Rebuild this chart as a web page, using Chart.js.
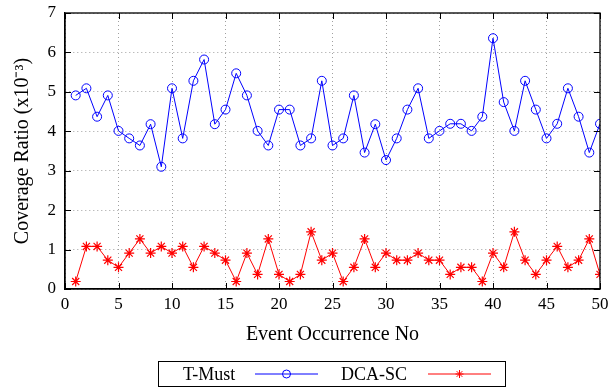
<!DOCTYPE html>
<html>
<head>
<meta charset="utf-8">
<script src="https://cdn.jsdelivr.net/npm/chart.js@4/dist/chart.umd.min.js"></script>
<style>
  html, body { margin: 0; padding: 0; background: #fff; }
  #wrap { width: 608px; height: 388px; }
</style>
</head>
<body>
<div id="wrap"><canvas id="chart" width="608" height="388"></canvas></div>
<script>
// event numbers 1..50
const events = [1,2,3,4,5,6,7,8,9,10,11,12,13,14,15,16,17,18,19,20,21,22,23,24,25,
  26,27,28,29,30,31,32,33,34,35,36,37,38,39,40,41,42,43,44,45,46,47,48,49,50]

// coverage ratio (x10^-3)
const tMust = [4.91,5.09,4.37,4.91,4.01,3.82,3.64,4.18,3.10,5.09,3.82,5.28,5.82,4.18,4.55,5.47,4.91,4.01,3.64,4.55,
  4.55,3.64,3.82,5.28,3.64,3.82,4.91,3.46,4.18,3.27,3.82,4.55,5.09,3.82,4.01,4.19,4.19,4.01,4.37,6.36,
  4.74,4.01,5.28,4.55,3.82,4.19,5.09,4.37,3.46,4.19]
const dcaSc = [0.19,1.08,1.08,0.73,0.55,0.91,1.27,0.91,1.08,0.91,1.08,0.55,1.08,0.91,0.73,0.19,0.91,0.37,1.27,0.37,
  0.19,0.37,1.45,0.73,0.91,0.19,0.55,1.27,0.55,0.91,0.73,0.73,0.91,0.73,0.73,0.37,0.55,0.55,0.19,0.91,
  0.55,1.45,0.73,0.37,0.73,1.08,0.55,0.73,1.27,0.37]

const xTicks = [0,5,10,15,20,25,30,35,40,45,50]
const yTicks = [0,1,2,3,4,5,6,7]

const serif = "'Liberation Serif', 'Times New Roman', serif"

const toPoints = (vals) => events.map((e, i) => ({ x: e, y: vals[i] }))

// closed frame with inward tick marks, plus a boxed legend (text first, then symbol)
const framePlugin = {
  id: "frame",
  afterDraw(chart) {
    const { ctx, chartArea: a, scales } = chart
    const tick = 6
    ctx.save()
    ctx.strokeStyle = "#000"
    ctx.lineWidth = 1
    xTicks.forEach(v => {
      const px = Math.round(scales.x.getPixelForValue(v)) + 0.5
      ctx.beginPath()
      ctx.moveTo(px, a.bottom); ctx.lineTo(px, a.bottom - tick)
      ctx.moveTo(px, a.top); ctx.lineTo(px, a.top + tick)
      ctx.stroke()
    })
    yTicks.forEach(v => {
      const py = Math.round(scales.y.getPixelForValue(v)) + 0.5
      ctx.beginPath()
      ctx.moveTo(a.left, py); ctx.lineTo(a.left + tick, py)
      ctx.moveTo(a.right, py); ctx.lineTo(a.right - tick, py)
      ctx.stroke()
    })
    ctx.lineWidth = 1.3
    ctx.strokeRect(a.left, a.top, a.right - a.left, a.bottom - a.top)

    // legend
    const box = { x: 158.5, y: 361.5, w: 347, h: 25 }
    ctx.lineWidth = 1
    ctx.strokeRect(box.x, box.y, box.w, box.h)
    ctx.font = "18px " + serif
    ctx.textBaseline = "middle"
    const cy = box.y + box.h / 2
    const items = [
      { ds: chart.data.datasets[0], tx: 183, lx: 255 },
      { ds: chart.data.datasets[1], tx: 341, lx: 428 }
    ]
    items.forEach(it => {
      ctx.fillStyle = "#000"
      ctx.textAlign = "left"
      ctx.fillText(it.ds.label, it.tx, cy + 1)
      ctx.strokeStyle = it.ds.borderColor
      ctx.lineWidth = 1
      ctx.beginPath()
      ctx.moveTo(it.lx, cy); ctx.lineTo(it.lx + 63, cy)
      ctx.stroke()
      ctx.fillStyle = "rgba(0,0,0,0)"
      Chart.helpers.drawPoint(ctx, { pointStyle: it.ds.pointStyle, radius: 4, borderWidth: 1 }, it.lx + 31.5, cy)
    })
    ctx.restore()
  }
}

new Chart(document.getElementById("chart").getContext("2d"), {
  type: "line",
  data: {
    datasets: [
      {
        label: "T-Must",
        data: toPoints(tMust),
        borderColor: "#0000ff",
        backgroundColor: "rgba(0,0,0,0)",
        borderWidth: 1,
        pointStyle: "circle",
        pointRadius: 4.5,
        pointBorderWidth: 1,
        pointBackgroundColor: "rgba(0,0,0,0)",
        tension: 0
      },
      {
        label: "DCA-SC",
        data: toPoints(dcaSc),
        borderColor: "#ff0000",
        backgroundColor: "rgba(0,0,0,0)",
        borderWidth: 1,
        pointStyle: "star",
        pointRadius: 5,
        pointBorderWidth: 1.2,
        pointBackgroundColor: "rgba(0,0,0,0)",
        tension: 0
      }
    ]
  },
  options: {
    responsive: false,
    animation: false,
    layout: { padding: { top: 13, right: 8, left: 0, bottom: 0 } },
    plugins: {
      legend: { display: false },
      tooltip: { enabled: false }
    },
    scales: {
      x: {
        type: "linear",
        min: 0,
        max: 50,
        afterFit: (s) => { s.height = 99; s.paddingLeft = 0; s.paddingRight = 0 },
        afterBuildTicks: (s) => { s.ticks = xTicks.map(v => ({ value: v })) },
        ticks: { color: "#000", font: { family: serif, size: 17 }, padding: 5, maxRotation: 0 },
        grid: { color: "#a0a0a0", lineWidth: 1, drawTicks: false },
        border: { display: true, color: "#000", width: 1.3, dash: [1, 3] },
        title: {
          display: true,
          text: "Event Occurrence No",
          color: "#000",
          font: { family: serif, size: 20 },
          padding: { top: 0, bottom: 41 }
        }
      },
      y: {
        min: 0,
        max: 7,
        afterFit: (s) => { s.width = 65; s.paddingTop = 0; s.paddingBottom = 0 },
        afterBuildTicks: (s) => { s.ticks = yTicks.map(v => ({ value: v })) },
        ticks: { color: "#000", font: { family: serif, size: 17 }, padding: 9 },
        grid: { color: "#a0a0a0", lineWidth: 1, drawTicks: false },
        border: { display: true, color: "#000", width: 1.3, dash: [1, 3] },
        title: {
          display: true,
          text: "Coverage Ratio (x10\u207B\u00B3)",
          color: "#000",
          font: { family: serif, size: 20 },
          padding: { top: 11, bottom: 0 }
        }
      }
    }
  },
  plugins: [framePlugin]
})
</script>
</body>
</html>
